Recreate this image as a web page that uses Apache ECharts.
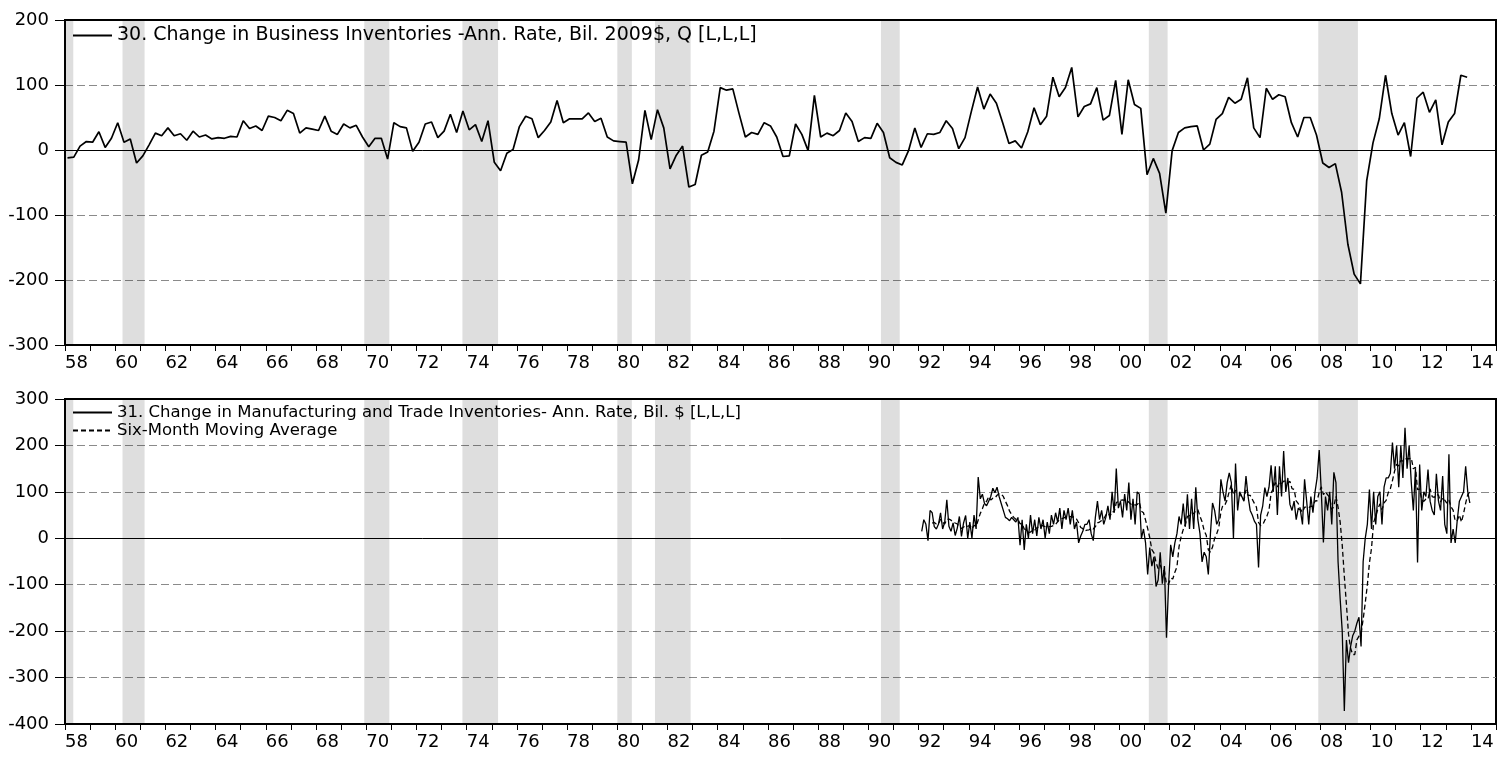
<!DOCTYPE html>
<html>
<head>
<meta charset="utf-8">
<script src="https://cdn.jsdelivr.net/npm/echarts@6/dist/echarts.min.js"></script>
<style>
  html, body { margin: 0; padding: 0; background: #fff; }
  #chart { width: 1509px; height: 758px; }
</style>
</head>
<body>
<div id="chart"></div>
<script>
// quarterly, 1958Q1 .. 2013Q4 (bil. 2009$, annual rate)
const bizInvStart = 1958;
const bizInvQ = [
  -12, -11, 6, 13,   12, 28, 4, 18,     42, 12, 17, -20,   -9, 8, 26, 22,
  34, 22, 25, 15,    29, 20, 23, 17,    19, 18, 21, 20,    45, 33, 37, 30,
  52, 50, 45, 61,    56, 26, 34, 32,    30, 52, 29, 24,    40, 34, 38, 20,
  5, 18, 18, -14,    42, 36, 34, -2,    12, 40, 43, 19,    29, 55, 27, 60,
  31, 39, 13, 45,    -19, -32, -5, 1,   36, 52, 48, 19,    30, 43, 76, 42,
  48, 48, 48, 57,    44, 49, 20, 14,    13, 12, -52, -15,  61, 16, 62, 34,
  -29, -8, 6, -57,   -53, -8, -3, 29,   96, 92, 94, 56,    20, 27, 24, 42,
  37, 20, -10, -9,   40, 24, -1, 84,    20, 26, 22, 30,    57, 44, 13, 19,
  18, 41, 27, -12,   -19, -23, -1, 34,  4, 25, 24, 27,     45, 33, 2, 19,
  59, 97, 63, 86,    72, 42, 10, 14,    3, 28, 65, 39,     52, 112, 82, 96,
  127, 51, 67, 71,   96, 46, 53, 107,   24, 108, 70, 64,   -38, -13, -36, -97,
  -1, 27, 34, 36,    37, 0, 9, 47,      56, 81, 72, 78,    111, 34, 19, 95,
  78, 85, 82, 42,    20, 50, 50, 23,    -20, -27, -21, -65, -145, -191, -206, -47,
  11, 48, 115, 56,   23, 42, -10, 80,   89, 58, 77, 8,     43, 56, 115, 112
];

// monthly, Feb 1992 .. Dec 2013 (bil. $, annual rate)
const mtInvStart = [1992, 2]; // year, month of first value
const mtInvM = [
  /*1992*/ 15, 40, 30, -5, 60, 55, 25, 20, 30, 55, 20,
  /*1993*/ 35, 83, 26, 15, 33, 6, 22, 47, 4, 33, 49, 0,
  /*1994*/ 35, 0, 50, 20, 132, 85, 95, 75, 70, 80, 90, 108,
  /*1995*/ 98, 110, 90, 75, 60, 45, 42, 38, 45, 40, 35, 45,
  /*1996*/ -15, 40, -25, 30, 0, 50, 10, 40, 5, 45, 20, 40,
  /*1997*/ 0, 35, 10, 50, 30, 55, 35, 65, 20, 60, 40, 65,
  /*1998*/ 30, 60, 20, 35, -10, 5, 15, 30, 30, 40, 10, -5,
  /*1999*/ 45, 80, 40, 60, 30, 45, 70, 40, 100, 55, 150, 65,
  /*2000*/ 80, 45, 95, 60, 120, 40, 85, 30, 100, 95, 0, 20,
  /*2001*/ -10, -78, -20, -60, -40, -104, -90, -30, -98, -60, -214, -100,
  /*2002*/ -14, -40, -10, 10, 47, 30, 75, 25, 95, 20, 85, 20,
  /*2003*/ 110, 40, 10, -51, -30, -40, -78, 10, 76, 60, 30, 40,
  /*2004*/ 127, 100, 80, 120, 141, 120, 0, 161, 60, 100, 90, 80,
  /*2005*/ 134, 90, 60, 50, 37, 30, -63, 50, 70, 109, 90, 110,
  /*2006*/ 157, 100, 155, 50, 155, 90, 188, 100, 130, 73, 60, 80,
  /*2007*/ 40, 65, 60, 30, 127, 80, 30, 90, 55, 100, 130, 190,
  /*2008*/ 100, -9, 90, 60, 100, 30, 142, 120, -50, -130, -200, -372,
  /*2009*/ -219, -268, -233, -210, -200, -183, -170, -233, -50, 0, 30, 105,
  /*2010*/ 20, 100, 30, 90, 100, 30, 110, 130, 130, 140, 206, 150,
  /*2011*/ 200, 110, 200, 130, 238, 150, 200, 120, 60, 150, -52, 159,
  /*2012*/ 60, 100, 90, 148, 80, 60, 50, 139, 80, 60, 134, 30,
  /*2013*/ 10, 181, -10, 20, -10, 40, 80, 90, 100, 155, 100, 76
];

// NBER recessions (peak month .. trough month, as decimal years)
const recessions = [
  [1957.58, 1958.33], [1960.29, 1961.17], [1969.92, 1970.92], [1973.83, 1975.25],
  [1980.0, 1980.58], [1981.5, 1982.92], [1990.5, 1991.25], [2001.17, 2001.92],
  [2007.92, 2009.5]
];

const yearTicks = [1958, 2015];
const topRange = [-300, 200];
const bottomRange = [-400, 300];

const topLabel = '30. Change in Business Inventories -Ann. Rate, Bil. 2009$, Q [L,L,L]';
const mtLabel = '31. Change in Manufacturing and Trade Inventories- Ann. Rate, Bil. $ [L,L,L]';
const maLabel = 'Six-Month Moving Average';

const FONT = '"DejaVu Sans", Arial, sans-serif';

// build [x, y] pairs
const topData = bizInvQ.map((v, i) => [bizInvStart + i / 4 + 0.1, v]);
const mtData = mtInvM.map((v, i) => {
  const m = (mtInvStart[1] - 1) + i;
  return [mtInvStart[0] + m / 12 + 1 / 24, v];
});
// six-month moving average of the monthly series
const maData = [];
for (let i = 5; i < mtInvM.length; i++) {
  let s = 0;
  for (let k = i - 5; k <= i; k++) s += mtInvM[k];
  maData.push([mtData[i][0], s / 6]);
}

const bands = recessions.map(r => [
  { xAxis: Math.max(r[0], yearTicks[0]) }, { xAxis: r[1] }
]);

function xAxisCfg(gridIndex) {
  return {
    type: 'value', gridIndex: gridIndex, min: yearTicks[0], max: yearTicks[1], interval: 1,
    axisLine: { show: true, onZero: false, lineStyle: { color: '#000', width: 2 } },
    axisTick: { show: true, length: 6, lineStyle: { color: '#000', width: 1 } },
    axisLabel: {
      formatter: v => (v % 2 === 0 && v < yearTicks[1]) ? String(v).slice(2) : '',
      align: 'left', margin: 9, fontSize: 18, color: '#000', fontFamily: FONT
    },
    splitLine: { show: false }
  };
}

function yAxisCfg(gridIndex, range) {
  return {
    type: 'value', gridIndex: gridIndex, min: range[0], max: range[1], interval: 100,
    axisLine: { show: true, onZero: false, lineStyle: { color: '#000', width: 2 } },
    axisTick: { show: true, length: 10, lineStyle: { color: '#000', width: 1 } },
    axisLabel: { fontSize: 18, color: '#000', margin: 16, fontFamily: FONT },
    splitLine: {
      show: true, showMinLine: false, showMaxLine: false,
      lineStyle: { color: '#8a8a8a', type: [8, 4], width: 1 }
    }
  };
}

const zeroLine = {
  silent: true, symbol: 'none', label: { show: false },
  lineStyle: { color: '#000', type: 'solid', width: 1 },
  data: [{ yAxis: 0 }]
};
const shade = {
  silent: true, itemStyle: { color: 'rgba(0,0,0,0.13)' }, data: bands
};

const chart = echarts.init(document.getElementById('chart'));
chart.setOption({
  animation: false,
  backgroundColor: '#fff',
  grid: [
    { left: 65, top: 20, width: 1431, height: 325, show: true, borderColor: '#000', borderWidth: 2 },
    { left: 65, top: 399, width: 1431, height: 325, show: true, borderColor: '#000', borderWidth: 2 }
  ],
  xAxis: [xAxisCfg(0), xAxisCfg(1)],
  yAxis: [yAxisCfg(0, topRange), yAxisCfg(1, bottomRange)],
  legend: [
    {
      data: [topLabel], left: 72, top: 26, orient: 'vertical', padding: 0,
      itemWidth: 39, itemHeight: 12, itemGap: 2,
      itemStyle: { opacity: 0 },
      textStyle: { fontSize: 19, color: '#000', fontFamily: FONT }
    },
    {
      data: [mtLabel, maLabel], left: 72, top: 404, orient: 'vertical', padding: 0,
      itemWidth: 39, itemHeight: 12, itemGap: 1,
      itemStyle: { opacity: 0 },
      textStyle: { fontSize: 16.5, color: '#000', fontFamily: FONT, lineHeight: 14 }
    }
  ],
  series: [
    {
      name: topLabel, type: 'line', xAxisIndex: 0, yAxisIndex: 0, data: topData,
      symbol: 'none', lineStyle: { color: '#000', width: 1.7 }, itemStyle: { color: '#000' },
      markArea: shade, markLine: zeroLine
    },
    {
      name: mtLabel, type: 'line', xAxisIndex: 1, yAxisIndex: 1, data: mtData,
      symbol: 'none', lineStyle: { color: '#000', width: 1.3 }, itemStyle: { color: '#000' },
      markArea: shade, markLine: zeroLine
    },
    {
      name: maLabel, type: 'line', xAxisIndex: 1, yAxisIndex: 1, data: maData,
      symbol: 'none', lineStyle: { color: '#000', width: 1.3, type: [5, 3] }, itemStyle: { color: '#000' }
    }
  ]
});
</script>
</body>
</html>
